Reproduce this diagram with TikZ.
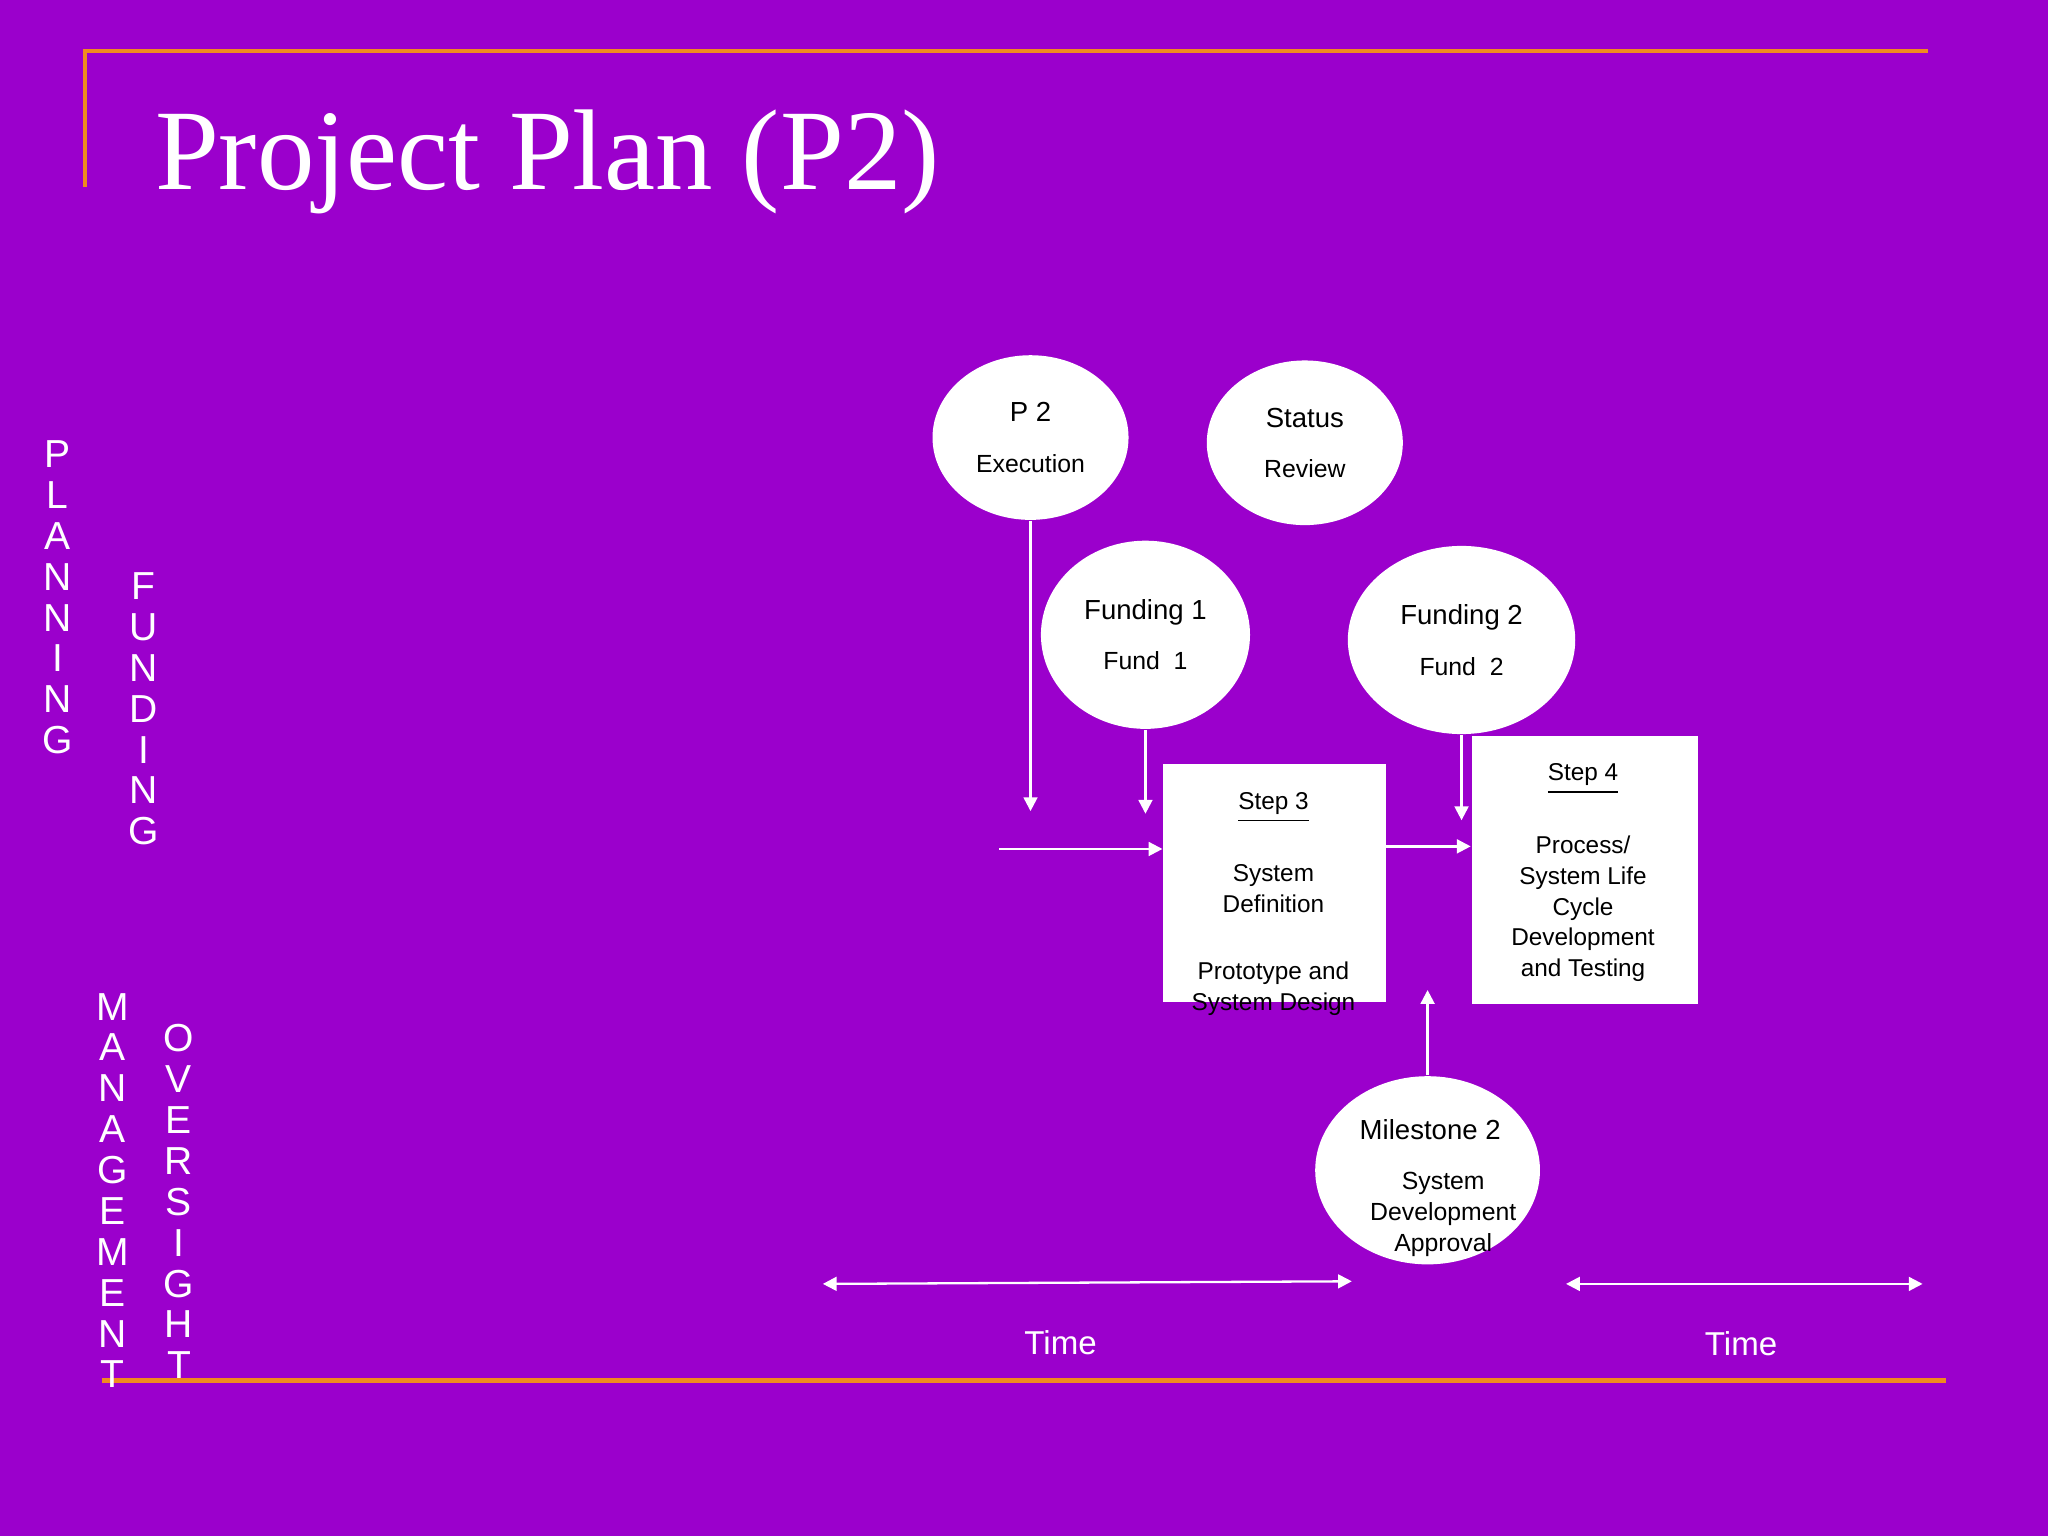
\documentclass[tikz,border=0pt]{standalone}
\usepackage{fontspec}
\setmainfont{Liberation Sans}
\newfontfamily\titlefont{Liberation Serif}
\usetikzlibrary{shapes.geometric,arrows.meta}
\definecolor{bg}{HTML}{9B00CC}
\definecolor{orng}{HTML}{F08A1E}
\newcommand{\smtx}{\fontsize{5.4}{6.8}\selectfont}
\tikzset{
 x=0.01cm,y=-0.01cm,
 oval/.style={ellipse,fill=white,draw=none,inner sep=0pt,align=center,font=\fontsize{6}{8}\selectfont},
 stepbox/.style={rectangle,fill=white,draw=none,anchor=north west},
 steptxt/.style={text=black,align=center,anchor=north,font=\fontsize{5.3}{6.7}\selectfont},
 arr/.style={white,line width=0.5pt,-{Triangle[length=3pt,width=3pt]}},
 darr/.style={white,line width=0.5pt,{Triangle[length=3pt,width=3pt]}-{Triangle[length=3pt,width=3pt]}},
 vlet/.style={white,align=center,font=\fontsize{8.5}{8.9}\selectfont,anchor=north},
 orline/.style={orng,line width=1pt}
}
\begin{document}
\begin{tikzpicture}
\fill[bg] (0,0) rectangle (1568,1176);
\useasboundingbox (0,0) rectangle (1568,1176);
\draw[orline] (65,143) -- (65,39) -- (1476,39);
\draw[orline] (78,1057) -- (1490,1057);
\node[white,anchor=base west,font=\titlefont\fontsize{25}{30}\selectfont,inner sep=0] (title) at (118,145) {Project Plan (P2)};
\node[vlet] (plan) at (44,325) {P\\L\\A\\N\\N\\I\\N\\G};
\node[vlet] (fund) at (110,426) {F\\U\\N\\D\\I\\N\\G};
\node[vlet] (mgmt) at (86,748) {M\\A\\N\\A\\G\\E\\M\\E\\N\\T};
\node[vlet] (over) at (137,772) {O\\V\\E\\R\\S\\I\\G\\H\\T};
\node[oval,minimum width=1.5cm,minimum height=1.26cm] (p2) at (789,335) {P 2\\[3pt]\smtx Execution};
\node[oval,minimum width=1.5cm,minimum height=1.26cm] (sr) at (999,339) {Status\\[3pt]\smtx Review};
\node[oval,minimum width=1.6cm,minimum height=1.44cm] (f1) at (877,486) {Funding 1\\[3pt]\smtx Fund~~1};
\node[oval,minimum width=1.74cm,minimum height=1.44cm] (f2) at (1119,490) {Funding 2\\[3pt]\smtx Fund~~2};
\node[oval,minimum width=1.72cm,minimum height=1.44cm] (ms) at (1093,896) {};
\node[white!0,text=black,align=center,font=\fontsize{6}{8}\selectfont,anchor=north] (mst) at (1095,845) {Milestone 2};
\node[text=black,align=center,font=\smtx,anchor=north] (msb) at (1105,885) {System\\Development\\Approval};
\node[stepbox,minimum width=1.7cm,minimum height=1.82cm] (s3) at (890,584) {};
\node[steptxt] (s3t) at (975,594) {\underline{Step 3}\\[8pt]System\\Definition\\[8pt]Prototype and\\System Design};
\node[stepbox,minimum width=1.73cm,minimum height=2.05cm] (s4) at (1126,563) {};
\node[steptxt] (s4t) at (1212,572) {\underline{Step 4}\\[8pt]Process/\\System Life\\Cycle\\Development\\and Testing};
\coordinate (p2e) at (789,621);
\coordinate (f1e) at (877,623);
\coordinate (f2e) at (1119,628);
\coordinate (hin) at (765,650);
\coordinate (mse) at (1093,758);
\draw[arr] (p2.south) -- (p2e);
\draw[arr] (f1.south) -- (f1e);
\draw[arr] (f2.south) -- (f2e);
\draw[arr] (hin) -- (hin -| s3.west);
\draw[arr] (s3.east |- 0,648) -- (s4.west |- 0,648);
\draw[arr] (ms.north) -- (mse);
\coordinate (t1a) at (630,983); \coordinate (t1b) at (1035,981);
\coordinate (t2a) at (1199,983); \coordinate (t2b) at (1472,983);
\draw[darr] (t1a) -- (t1b);
\draw[darr] (t2a) -- (t2b);
\node[white,font=\fontsize{7.2}{9}\selectfont] (time1) at (812,1028) {Time};
\node[white,font=\fontsize{7.2}{9}\selectfont] (time2) at (1333,1029) {Time};
\end{tikzpicture}
\end{document}
